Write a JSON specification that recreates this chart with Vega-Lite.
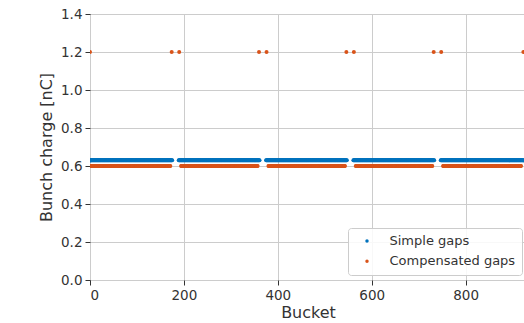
{
"$schema": "https://vega.github.io/schema/vega-lite/v6.json",
"width": 436,
"height": 266,
"autosize": {"type": "none"},
"padding": {"left": 90, "top": 14, "right": 0, "bottom": 43},
"background": "white",
"config": {"font": "DejaVu Sans", "view": {"stroke": "#333333", "strokeWidth": 1}},
"data": {"values": [
{"series": "Simple gaps", "charge": 0.63, "bucket": [0,1,2,3,4,5,6,7,8,9,10,11,12,13,14,15,16,17,18,19,20,21,22,23,24,25,26,27,28,29,30,31,32,33,34,35,36,37,38,39,40,41,42,43,44,45,46,47,48,49,50,51,52,53,54,55,56,57,58,59,60,61,62,63,64,65,66,67,68,69,70,71,72,73,74,75,76,77,78,79,80,81,82,83,84,85,86,87,88,89,90,91,92,93,94,95,96,97,98,99,100,101,102,103,104,105,106,107,108,109,110,111,112,113,114,115,116,117,118,119,120,121,122,123,124,125,126,127,128,129,130,131,132,133,134,135,136,137,138,139,140,141,142,143,144,145,146,147,148,149,150,151,152,153,154,155,156,157,158,159,160,161,162,163,164,165,166,167,168,169,170,171,172,173,174,175,
189,190,191,192,193,194,195,196,197,198,199,200,201,202,203,204,205,206,207,208,209,210,211,212,213,214,215,216,217,218,219,220,221,222,223,224,225,226,227,228,229,230,231,232,233,234,235,236,237,238,239,240,241,242,243,244,245,246,247,248,249,250,251,252,253,254,255,256,257,258,259,260,261,262,263,264,265,266,267,268,269,270,271,272,273,274,275,276,277,278,279,280,281,282,283,284,285,286,287,288,289,290,291,292,293,294,295,296,297,298,299,300,301,302,303,304,305,306,307,308,309,310,311,312,313,314,315,316,317,318,319,320,321,322,323,324,325,326,327,328,329,330,331,332,333,334,335,336,337,338,339,340,341,342,343,344,345,346,347,348,349,350,351,352,353,354,355,356,357,358,359,360,361,
375,376,377,378,379,380,381,382,383,384,385,386,387,388,389,390,391,392,393,394,395,396,397,398,399,400,401,402,403,404,405,406,407,408,409,410,411,412,413,414,415,416,417,418,419,420,421,422,423,424,425,426,427,428,429,430,431,432,433,434,435,436,437,438,439,440,441,442,443,444,445,446,447,448,449,450,451,452,453,454,455,456,457,458,459,460,461,462,463,464,465,466,467,468,469,470,471,472,473,474,475,476,477,478,479,480,481,482,483,484,485,486,487,488,489,490,491,492,493,494,495,496,497,498,499,500,501,502,503,504,505,506,507,508,509,510,511,512,513,514,515,516,517,518,519,520,521,522,523,524,525,526,527,528,529,530,531,532,533,534,535,536,537,538,539,540,541,542,543,544,545,546,547,
561,562,563,564,565,566,567,568,569,570,571,572,573,574,575,576,577,578,579,580,581,582,583,584,585,586,587,588,589,590,591,592,593,594,595,596,597,598,599,600,601,602,603,604,605,606,607,608,609,610,611,612,613,614,615,616,617,618,619,620,621,622,623,624,625,626,627,628,629,630,631,632,633,634,635,636,637,638,639,640,641,642,643,644,645,646,647,648,649,650,651,652,653,654,655,656,657,658,659,660,661,662,663,664,665,666,667,668,669,670,671,672,673,674,675,676,677,678,679,680,681,682,683,684,685,686,687,688,689,690,691,692,693,694,695,696,697,698,699,700,701,702,703,704,705,706,707,708,709,710,711,712,713,714,715,716,717,718,719,720,721,722,723,724,725,726,727,728,729,730,731,732,733,
747,748,749,750,751,752,753,754,755,756,757,758,759,760,761,762,763,764,765,766,767,768,769,770,771,772,773,774,775,776,777,778,779,780,781,782,783,784,785,786,787,788,789,790,791,792,793,794,795,796,797,798,799,800,801,802,803,804,805,806,807,808,809,810,811,812,813,814,815,816,817,818,819,820,821,822,823,824,825,826,827,828,829,830,831,832,833,834,835,836,837,838,839,840,841,842,843,844,845,846,847,848,849,850,851,852,853,854,855,856,857,858,859,860,861,862,863,864,865,866,867,868,869,870,871,872,873,874,875,876,877,878,879,880,881,882,883,884,885,886,887,888,889,890,891,892,893,894,895,896,897,898,899,900,901,902,903,904,905,906,907,908,909,910,911,912,913,914,915,916,917,918,919,920,921,922,923]},
{"series": "Compensated gaps", "charge": 0.6, "bucket": [1,2,3,4,5,6,7,8,9,10,11,12,13,14,15,16,17,18,19,20,21,22,23,24,25,26,27,28,29,30,31,32,33,34,35,36,37,38,39,40,41,42,43,44,45,46,47,48,49,50,51,52,53,54,55,56,57,58,59,60,61,62,63,64,65,66,67,68,69,70,71,72,73,74,75,76,77,78,79,80,81,82,83,84,85,86,87,88,89,90,91,92,93,94,95,96,97,98,99,100,101,102,103,104,105,106,107,108,109,110,111,112,113,114,115,116,117,118,119,120,121,122,123,124,125,126,127,128,129,130,131,132,133,134,135,136,137,138,139,140,141,142,143,144,145,146,147,148,149,150,151,152,153,154,155,156,157,158,159,160,161,162,163,164,165,166,167,168,169,170,171,
194,195,196,197,198,199,200,201,202,203,204,205,206,207,208,209,210,211,212,213,214,215,216,217,218,219,220,221,222,223,224,225,226,227,228,229,230,231,232,233,234,235,236,237,238,239,240,241,242,243,244,245,246,247,248,249,250,251,252,253,254,255,256,257,258,259,260,261,262,263,264,265,266,267,268,269,270,271,272,273,274,275,276,277,278,279,280,281,282,283,284,285,286,287,288,289,290,291,292,293,294,295,296,297,298,299,300,301,302,303,304,305,306,307,308,309,310,311,312,313,314,315,316,317,318,319,320,321,322,323,324,325,326,327,328,329,330,331,332,333,334,335,336,337,338,339,340,341,342,343,344,345,346,347,348,349,350,351,352,353,354,355,356,357,
380,381,382,383,384,385,386,387,388,389,390,391,392,393,394,395,396,397,398,399,400,401,402,403,404,405,406,407,408,409,410,411,412,413,414,415,416,417,418,419,420,421,422,423,424,425,426,427,428,429,430,431,432,433,434,435,436,437,438,439,440,441,442,443,444,445,446,447,448,449,450,451,452,453,454,455,456,457,458,459,460,461,462,463,464,465,466,467,468,469,470,471,472,473,474,475,476,477,478,479,480,481,482,483,484,485,486,487,488,489,490,491,492,493,494,495,496,497,498,499,500,501,502,503,504,505,506,507,508,509,510,511,512,513,514,515,516,517,518,519,520,521,522,523,524,525,526,527,528,529,530,531,532,533,534,535,536,537,538,539,540,541,542,543,
566,567,568,569,570,571,572,573,574,575,576,577,578,579,580,581,582,583,584,585,586,587,588,589,590,591,592,593,594,595,596,597,598,599,600,601,602,603,604,605,606,607,608,609,610,611,612,613,614,615,616,617,618,619,620,621,622,623,624,625,626,627,628,629,630,631,632,633,634,635,636,637,638,639,640,641,642,643,644,645,646,647,648,649,650,651,652,653,654,655,656,657,658,659,660,661,662,663,664,665,666,667,668,669,670,671,672,673,674,675,676,677,678,679,680,681,682,683,684,685,686,687,688,689,690,691,692,693,694,695,696,697,698,699,700,701,702,703,704,705,706,707,708,709,710,711,712,713,714,715,716,717,718,719,720,721,722,723,724,725,726,727,728,729,
752,753,754,755,756,757,758,759,760,761,762,763,764,765,766,767,768,769,770,771,772,773,774,775,776,777,778,779,780,781,782,783,784,785,786,787,788,789,790,791,792,793,794,795,796,797,798,799,800,801,802,803,804,805,806,807,808,809,810,811,812,813,814,815,816,817,818,819,820,821,822,823,824,825,826,827,828,829,830,831,832,833,834,835,836,837,838,839,840,841,842,843,844,845,846,847,848,849,850,851,852,853,854,855,856,857,858,859,860,861,862,863,864,865,866,867,868,869,870,871,872,873,874,875,876,877,878,879,880,881,882,883,884,885,886,887,888,889,890,891,892,893,894,895,896,897,898,899,900,901,902,903,904,905,906,907,908,909,910,911,912,913,914,915,916,917,918]},
{"series": "Compensated gaps", "charge": 1.2, "bucket": [0,174,190,360,376,546,562,732,748,923]}
]},
"transform": [{"flatten": ["bucket"]}],
"mark": {"type": "circle", "size": 16, "opacity": 1, "clip": true},
"encoding": {
"x": {"field": "bucket", "type": "quantitative", "scale": {"domain": [0, 928.6], "nice": false, "zero": false},
 "axis": {"values": [0, 200, 400, 600, 800], "title": "Bucket", "domain": false, "grid": true, "gridColor": "#cccccc", "gridWidth": 1, "tickColor": "#333333", "tickSize": 5, "labelFontSize": 13.5, "labelColor": "#333333", "labelPadding": 3, "titleFontSize": 16, "titleFontWeight": "normal", "titleColor": "#333333", "titlePadding": 3}},
"y": {"field": "charge", "type": "quantitative", "scale": {"domain": [0, 1.4], "nice": false},
 "axis": {"values": [0, 0.2, 0.4, 0.6, 0.8, 1.0, 1.2, 1.4], "format": ".1f", "title": "Bunch charge [nC]", "domain": false, "grid": true, "gridColor": "#cccccc", "gridWidth": 1, "tickColor": "#333333", "tickSize": 5, "labelFontSize": 13.5, "labelColor": "#333333", "labelPadding": 3, "titleFontSize": 16, "titleFontWeight": "normal", "titleColor": "#333333", "titlePadding": 6}},
"color": {"field": "series", "type": "nominal", "scale": {"domain": ["Simple gaps", "Compensated gaps"], "range": ["#0072bd", "#d95319"]},
 "legend": {"title": null, "orient": "none", "legendX": 258, "legendY": 214, "fillColor": "rgba(255,255,255,0.85)", "strokeColor": "#cccccc", "cornerRadius": 3, "padding": 6.5, "symbolType": "circle", "symbolSize": 12, "symbolStrokeWidth": 0, "symbolOffset": 6, "labelOffset": 16, "labelFontSize": 13, "labelColor": "#333333", "rowPadding": 6.3}}
}
}
